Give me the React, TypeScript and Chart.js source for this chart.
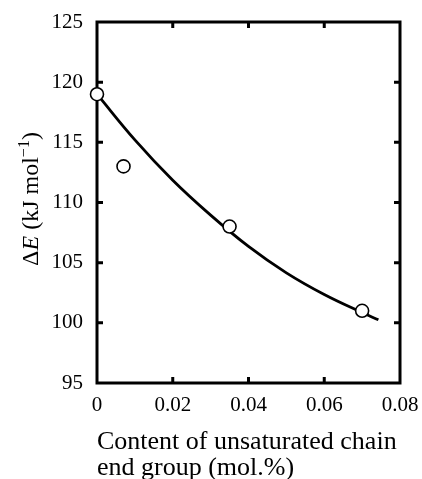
import React, { useEffect, useRef } from "react";
import { Chart, registerables } from "chart.js";

Chart.register(...registerables);

// Measured points
const pointX = [0, 0.007, 0.035, 0.07];
const pointY = [119, 113, 108, 101];
// Fitted curve
const fitX = [0, 0.01, 0.02, 0.03, 0.04, 0.05, 0.06, 0.07, 0.0743];
const fitY = [119, 115.2, 111.85, 108.95, 106.35, 104.15, 102.35, 100.85, 100.25];
// Axis ticks
const xTicks = [0, 0.02, 0.04, 0.06, 0.08];
const yTicks = [95, 100, 105, 110, 115, 120, 125];

const xTitleLines = ["Content of unsaturated chain", "end group (mol.%)"];

const FONT = "'Liberation Serif', 'Times New Roman', serif";

const framePlugin = {
  id: "frame",
  beforeDatasetsDraw(chart: any) {
    const { ctx, chartArea } = chart;
    const { left, right, top, bottom } = chartArea;
    const xs = chart.scales.x;
    const ys = chart.scales.y;
    ctx.save();
    ctx.strokeStyle = "#000";
    ctx.lineWidth = 3;
    ctx.strokeRect(left, top, right - left, bottom - top);
    const tl = 6;
    yTicks.slice(1, -1).forEach((v) => {
      const py = ys.getPixelForValue(v);
      ctx.beginPath();
      ctx.moveTo(left, py);
      ctx.lineTo(left + tl, py);
      ctx.moveTo(right, py);
      ctx.lineTo(right - tl, py);
      ctx.stroke();
    });
    xTicks.slice(1, -1).forEach((v) => {
      const px = xs.getPixelForValue(v);
      ctx.beginPath();
      ctx.moveTo(px, bottom);
      ctx.lineTo(px, bottom - tl);
      ctx.moveTo(px, top);
      ctx.lineTo(px, top + tl);
      ctx.stroke();
    });
    ctx.restore();
  },
};

const titlePlugin = {
  id: "titles",
  afterDraw(chart: any) {
    const { ctx, chartArea } = chart;
    ctx.save();
    ctx.fillStyle = "#000";
    // x title
    ctx.font = `26px ${FONT}`;
    ctx.textAlign = "left";
    ctx.textBaseline = "alphabetic";
    ctx.fillText(xTitleLines[0], chartArea.left, 449);
    ctx.fillText(xTitleLines[1], chartArea.left, 475);

    // y title: ΔE (kJ mol−1)
    const size = 24;
    const segs = [
      { t: "Δ", f: `${size}px ${FONT}`, dy: 0 },
      { t: "E", f: `italic ${size}px ${FONT}`, dy: 0 },
      { t: " (kJ mol", f: `${size}px ${FONT}`, dy: 0 },
      { t: "−1", f: `${Math.round(size * 0.66)}px ${FONT}`, dy: -9 },
      { t: ")", f: `${size}px ${FONT}`, dy: 0 },
    ];
    let total = 0;
    const widths = segs.map((s) => {
      ctx.font = s.f;
      const w = ctx.measureText(s.t).width;
      total += w;
      return w;
    });
    const cy = 199;
    ctx.translate(38, cy);
    ctx.rotate(-Math.PI / 2);
    ctx.textAlign = "left";
    ctx.textBaseline = "alphabetic";
    let x = -total / 2;
    segs.forEach((s, i) => {
      ctx.font = s.f;
      ctx.fillText(s.t, x, s.dy);
      x += widths[i];
    });
    ctx.restore();
  },
};

export default function App() {
  const ref = useRef<HTMLCanvasElement>(null);
  useEffect(() => {
    if (!ref.current) return;
    const chart = new Chart(ref.current, {
      type: "scatter",
      data: {
        datasets: [
          {
            label: "data",
            data: pointX.map((x, i) => ({ x, y: pointY[i] })),
            pointRadius: 6.5,
            pointBackgroundColor: "#fff",
            pointBorderColor: "#000",
            pointBorderWidth: 1.6,
            showLine: false,
            clip: false as any,
            order: 0,
          },
          {
            label: "fit",
            data: fitX.map((x, i) => ({ x, y: fitY[i] })),
            showLine: true,
            pointRadius: 0,
            borderColor: "#000",
            borderWidth: 2.8,
            tension: 0.4,
            clip: false as any,
            order: 1,
          },
        ],
      },
      plugins: [framePlugin, titlePlugin],
      options: {
        animation: false,
        responsive: false,
        devicePixelRatio: 1,
        layout: { padding: { left: 0, top: 22, right: 22, bottom: 0 } },
        plugins: {
          legend: { display: false },
          tooltip: { enabled: false },
          title: { display: false },
        },
        scales: {
          x: {
            type: "linear",
            min: 0,
            max: 0.08,
            afterBuildTicks: (s: any) => {
              s.ticks = xTicks.map((v) => ({ value: v }));
            },
            afterFit: (s: any) => {
              s.height = 96;
              s.paddingLeft = 0;
              s.paddingRight = 0;
            },
            grid: { display: false, drawTicks: false },
            border: { display: false },
            ticks: {
              color: "#000",
              font: { family: FONT, size: 21 },
              padding: 10,
              maxRotation: 0,
              callback: (v: any) => String(Number(v)),
            },
          },
          y: {
            type: "linear",
            min: 95,
            max: 125,
            afterBuildTicks: (s: any) => {
              s.ticks = yTicks.map((v) => ({ value: v }));
            },
            afterFit: (s: any) => {
              s.width = 97;
              s.paddingTop = 0;
              s.paddingBottom = 0;
            },
            grid: { display: false, drawTicks: false },
            border: { display: false },
            ticks: {
              color: "#000",
              font: { family: FONT, size: 21 },
              padding: 14,
              callback: (v: any) => String(v),
            },
          },
        },
      } as any,
    });
    return () => chart.destroy();
  }, []);
  return (
    <div style={{ position: "fixed", left: 0, top: 0, width: 422, height: 479, background: "#fff" }}>
      <canvas ref={ref} width={422} height={479} style={{ width: 422, height: 479 }} />
    </div>
  );
}
